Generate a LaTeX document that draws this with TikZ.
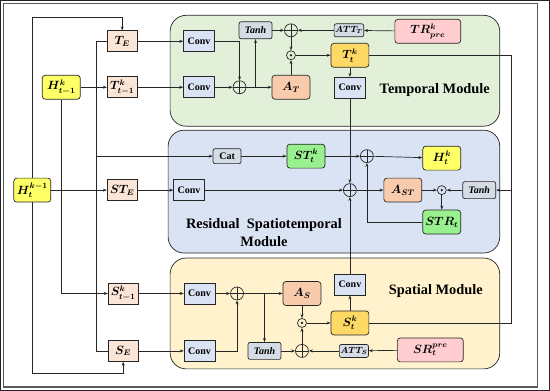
\documentclass[tikz,border=0pt]{standalone}
\usepackage{amsmath}
\usepackage{amssymb}
\usepackage{fontspec}
\setmainfont{Liberation Serif}
\usepackage{tikz}
\usetikzlibrary{
    positioning,
    arrows.meta
}
\definecolor{verdeT}{HTML}{E2F0D9}
\definecolor{azulR}{HTML}{DAE3F3}
\definecolor{amarS}{HTML}{FFF2CC}
\definecolor{durazno}{HTML}{FBE5D6}
\definecolor{gris}{HTML}{D6DCE5}
\definecolor{amarillo}{HTML}{FFFF66}
\definecolor{naranja}{HTML}{F8CBAD}
\definecolor{oro}{HTML}{FFD966}
\definecolor{verde}{HTML}{99F08F}
\definecolor{rosa}{HTML}{FFCCD0}
\definecolor{linea}{HTML}{262626}
\tikzset{
    >={Stealth[length=4pt,width=3pt]},
    every path/.style={draw=linea, line width=0.7pt},
    embed/.style={
        draw, fill=durazno,
        minimum width=30pt, minimum height=21pt,
        inner sep=1pt, font=\large\boldmath
    },
    conv/.style={
        draw, fill=azulR,
        minimum width=31pt, minimum height=21pt,
        inner sep=1pt, font=\bfseries
    },
    caja/.style={
        draw, rounded corners=3pt,
        minimum width=38pt, minimum height=24pt,
        inner sep=1pt, font=\large\boldmath
    },
    hbox/.style={caja, fill=amarillo},
    attn/.style={caja, fill=naranja},
    salida/.style={caja, fill=oro},
    resid/.style={caja, fill=verde},
    memo/.style={caja, fill=rosa, minimum width=66pt},
    tanhbox/.style={
        draw, fill=gris, rounded corners=2pt,
        minimum width=33pt, minimum height=17pt,
        inner sep=1pt, font=\bfseries\itshape
    },
    attbox/.style={
        draw, fill=gris, rounded corners=2pt,
        minimum width=28pt, minimum height=13pt,
        inner sep=1pt, font=\small\boldmath
    },
    catbox/.style={
        draw, fill=gris, rounded corners=2pt,
        minimum width=28pt, minimum height=15pt,
        inner sep=1pt, font=\bfseries
    },
    oplus/.style={
        circle, draw, minimum size=13pt, inner sep=0pt,
        path picture={
            \draw (path picture bounding box.north) -- (path picture bounding box.south)
                  (path picture bounding box.west) -- (path picture bounding box.east);
        }
    },
    odot/.style={
        circle, draw, minimum size=9pt, inner sep=0pt,
        path picture={\fill[linea] (path picture bounding box.center) circle (0.8pt);}
    },
    modulo/.style={draw, rounded corners=16pt},
    modtexto/.style={font=\Large\bfseries}
}

\begin{document}
\begin{tikzpicture}[
    x=1pt, y=-1pt
]
    \useasboundingbox (0,0) rectangle (550,390);
    \draw[draw=black!65, line width=1.4pt] (3,3) rectangle (538,387);

    % Modulos
    \draw[modulo, fill=verdeT] (170,15) rectangle (500,126);
    \draw[modulo, fill=azulR]  (168,130) rectangle (500,253);
    \draw[modulo, fill=amarS]  (170,258) rectangle (500,369);

    \node[modtexto] (labT) at (435,90) {Temporal Module};
    \node[modtexto, align=center] (labR) at (264,233)
        {Residual\ \ Spatiotemporal\\Module};
    \node[modtexto] (labS) at (436,291) {Spatial Module};

    % Entradas
    \node[hbox]  (Hprev) at (61,87)    {$H^k_{t-1}$};
    \node[hbox, minimum width=37pt] (Hin) at (32,190) {$H^{k-1}_t$};
    \node[embed] (TE)    at (122,41)   {$T_E$};
    \node[embed] (Tprev) at (122,87)   {$T^k_{t-1}$};
    \node[embed] (STE)   at (122,190)  {$ST_E$};
    \node[embed] (Sprev) at (123,293.5){$S^k_{t-1}$};
    \node[embed] (SE)    at (123,351)  {$S_E$};

    \coordinate (topy) at (0,17);
    \coordinate (boty) at (0,373);
    \coordinate (col)  at (96,0);
    \coordinate (rj)   at (512,190);

    % Modulo temporal
    \node[conv]    (convT1) at (199,41)   {Conv};
    \node[conv]    (convT2) at (199,87)   {Conv};
    \node[oplus]   (sumT1)  at (239.5,87) {};
    \node[tanhbox] (tanhT)  at (255.5,30) {Tanh};
    \node[attn]    (AT)     at (291,87)   {$A_T$};
    \node[oplus]   (sumT2)  at (291,30)   {};
    \node[attbox]  (attT)   at (349,30)   {$ATT_T$};
    \node[memo]    (TR)     at (428,31)   {$TR^k_{pre}$};
    \node[odot]    (mulT)   at (291,55)   {};
    \node[salida]  (Tt)     at (350,55)   {$T^k_t$};
    \node[conv]    (convT3) at (350,87.5) {Conv};

    % Modulo residual
    \node[catbox]  (catST)  at (227,156)  {Cat};
    \node[resid]   (STt)    at (306,156)  {$ST^k_t$};
    \node[oplus]   (sumST2) at (367,156)  {};
    \node[hbox]    (Ht)     at (442,158)  {$H^k_t$};
    \node[conv]    (convST) at (189,190)  {Conv};
    \node[oplus]   (sumST1) at (350,190)  {};
    \node[attn]    (AST)    at (403,190)  {$A_{ST}$};
    \node[odot]    (mulST)  at (442,190)  {};
    \node[tanhbox] (tanhST) at (479.5,190){Tanh};
    \node[resid]   (STR)    at (442,222)  {$STR_t$};

    % Modulo espacial
    \node[conv]    (convS1) at (199.5,293.5) {Conv};
    \node[conv]    (convS2) at (199.5,351)   {Conv};
    \node[oplus]   (sumS1)  at (237,293.5)   {};
    \node[attn]    (AS)     at (302,293.5)   {$A_S$};
    \node[tanhbox] (tanhS)  at (264.5,351)   {Tanh};
    \node[oplus]   (sumS2)  at (302,351)     {};
    \node[attbox]  (attS)   at (354,351)     {$ATT_S$};
    \node[memo]    (SR)     at (430.5,350)   {$SR^{pre}_t$};
    \node[odot]    (mulS)   at (302,323)     {};
    \node[salida]  (St)     at (350,323)     {$S^k_t$};
    \node[conv]    (convS3) at (350,284.5)   {Conv};

    % Conexiones de entrada
    \draw[->] (Hprev) -- (Tprev);
    \draw[->] (Hin) -- (STE);
    \draw[->] (Hin) -- (Hin |- topy) -| (TE);
    \draw[->] (Hin) -- (Hin |- boty) -| (SE);
    \draw[->] (Hprev) -- (Hprev |- Sprev) -- (Sprev);
    \draw (TE) -- (TE -| col) |- (SE);
    \draw[->] (col |- catST) -- (catST);

    % Temporal
    \draw[->] (TE) -- (convT1);
    \draw[->] (Tprev) -- (convT2);
    \draw[->] (convT1) -| (sumT1);
    \draw[->] (convT2) -- (sumT1);
    \draw[->] (sumT1) -- (AT);
    \draw[->] (tanhT |- sumT1) -- (tanhT);
    \draw[->] (tanhT) -- (sumT2);
    \draw[->] (TR) -- (attT);
    \draw[->] (attT) -- (sumT2);
    \draw[->] (sumT2) -- (mulT);
    \draw[->] (AT) -- (mulT);
    \draw[->] (mulT) -- (Tt);
    \draw[->] (Tt) -- (convT3);
    \draw[->] (convT3) -- (sumST1);

    % Residual
    \draw[->] (catST) -- (STt);
    \draw[->] (STt) -- (sumST2);
    \draw[->] (sumST2) -- (Ht);
    \draw[->] (STE) -- (convST);
    \draw[->] (convST) -- (sumST1);
    \draw[->] (sumST1) -- (AST);
    \draw[->] (AST) -- (mulST);
    \draw[->] (tanhST) -- (mulST);
    \draw[->] (mulST) -- (STR);
    \draw[->] (STR) -| (sumST2);
    \draw (Tt) -| (rj);
    \draw (St) -| (rj);
    \draw[->] (rj) -- (tanhST);

    % Espacial
    \draw[->] (Sprev) -- (convS1);
    \draw[->] (SE) -- (convS2);
    \draw[->] (convS1) -- (sumS1);
    \draw[->] (convS2) -| (sumS1);
    \draw[->] (sumS1) -- (AS);
    \draw[->] (tanhS |- sumS1) -- (tanhS);
    \draw[->] (tanhS) -- (sumS2);
    \draw[->] (SR) -- (attS);
    \draw[->] (attS) -- (sumS2);
    \draw[->] (sumS2) -- (mulS);
    \draw[->] (AS) -- (mulS);
    \draw[->] (mulS) -- (St);
    \draw[->] (St) -- (convS3);
    \draw[->] (convS3) -- (sumST1);

\end{tikzpicture}
\end{document}
